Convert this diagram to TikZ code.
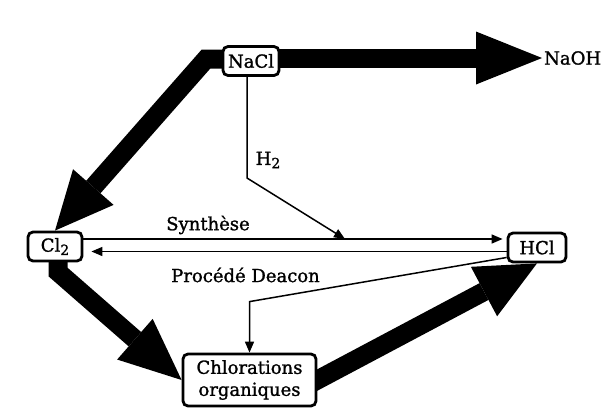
\documentclass[tikz,border=0pt]{standalone}
\usepackage{fontspec}
\setmainfont[FakeBold=1.3]{DejaVu Serif}
\usetikzlibrary{arrows.meta,calc,backgrounds}
\newcommand\lowsub[1]{\raisebox{-0.35ex}{\fontsize{14}{14}\selectfont #1}}
\begin{document}
\begin{tikzpicture}[x=1pt,y=-1pt,
  box/.style={draw, line width=2.8pt, rounded corners=5pt, fill=white, inner sep=0pt,
    font=\fontsize{18}{22}\selectfont, align=center},
  lbl/.style={inner sep=0pt, font=\fontsize{18}{20}\selectfont},
  fat/.style={line width=19pt, line join=miter},
  thinarrow/.style={line width=1.5pt, -{Triangle[length=11pt,width=9pt]}}]
\useasboundingbox (0,0) rectangle (605,410);
% boxes
\node[box, minimum width=56pt, minimum height=29pt] (nacl) at (251,61) {NaCl};
\node[box, minimum width=54pt, minimum height=29pt] (cl2) at (55,246.5) {Cl\lowsub{2}};
\node[box, minimum width=58pt, minimum height=29pt] (hcl) at (537,247.5) {HCl};
\node[box, minimum width=133pt, minimum height=52pt] (chlor) at (249.5,380) {Chlorations\\organiques};
% labels
\node[lbl, anchor=west] (naoh) at (544,58) {NaOH};
\node[lbl] (synth) at (208,225) {Synthèse};
\node[lbl] (deacon) at (245.5,275) {Procédé Deacon};
\node[lbl] (h2) at (268,160) {H\lowsub{2}};
% helper coordinates
\coordinate (bend1) at (206,59);
\coordinate (bend2) at (58,272);
\coordinate (h2bend) at (247,178);
\coordinate (h2end) at (345,239);
\coordinate (deacbend) at ($(chlor.north)+(0,-51)$);
% fat arrows behind the boxes
\begin{scope}[on background layer]
\draw[fat, -{Triangle[length=66pt,width=53pt,line width=0pt]}, shorten >=2pt]
  ($(nacl.center)+(0,-3)$) -- (naoh.west);
\draw[fat, -{Triangle[length=58pt,width=54pt,line width=0pt]}]
  ($(nacl.center)+(0,-2)$) -- (bend1) -- (cl2.north);
\draw[fat, -{Triangle[length=62pt,width=54pt,line width=0pt]}]
  ($(cl2.center)+(3,0)$) -- (bend2) -- (chlor.west);
\draw[fat, -{Triangle[length=60pt,width=56pt,line width=0pt]}]
  ($(chlor.east)+(-10.6,5.6)$) -- (hcl.south);
\end{scope}
% thin arrows
\draw[thinarrow] ($(cl2.east)+(0,-7.5)$) -- ($(hcl.west)+(-4,-8.5)$);
\draw[thinarrow] ($(hcl.west)+(0,4)$) -- ($(cl2.east)+(8,5)$);
\draw[thinarrow] ($(nacl.south)+(-4,0)$) -- (h2bend) -- (h2end);
\draw[thinarrow] ($(hcl.west)+(0,10)$) -- (deacbend) -- (chlor.north);
\end{tikzpicture}
\end{document}
